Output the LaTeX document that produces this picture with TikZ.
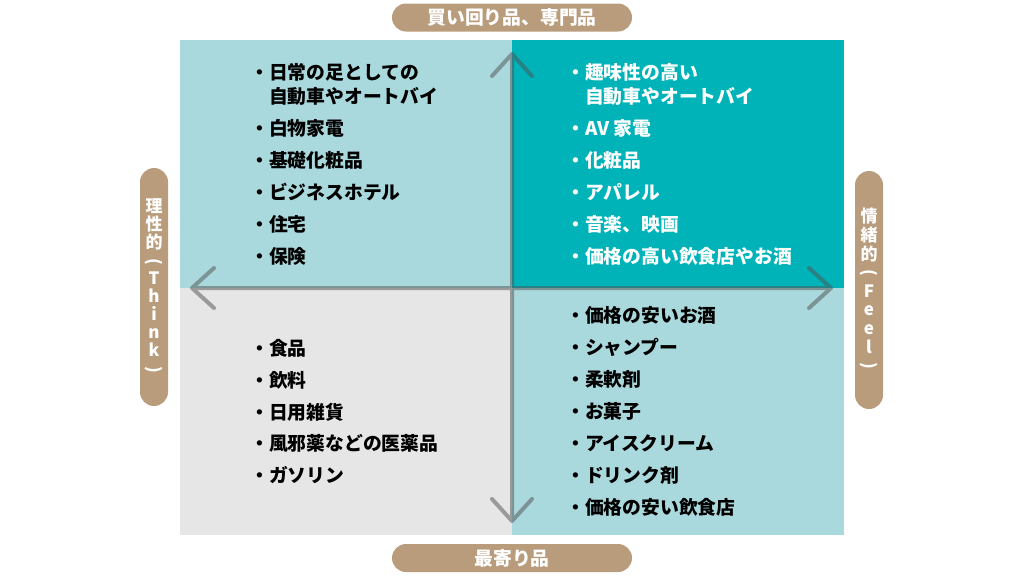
\documentclass[tikz,border=0pt]{standalone}
\usepackage{fontspec}
\usepackage{graphicx}
\setmainfont{Noto Sans CJK JP}
\usetikzlibrary{arrows.meta}
\definecolor{hellTuerkis}{HTML}{AAD9DD}
\definecolor{tuerkis}{HTML}{00B3B9}
\definecolor{hellGrau}{HTML}{E6E6E6}
\definecolor{sand}{HTML}{B99C7B}
\definecolor{achse}{HTML}{505050}
\newcommand{\klauf}{\rotatebox[origin=c]{-90}{(}}
\newcommand{\klzu}{\rotatebox[origin=c]{-90}{)}}
\tikzset{
    %Standard-Pfeilspitze
    >={Straight Barb[length=22pt,width=40pt,round]},
    %Kapsel fuer die Achsen
    kapsel/.style={
           rectangle,
           rounded corners=14pt,
           fill=sand,
           text=white,
           inner sep=0pt},
    % Listeneintrag
    eintrag/.style={
           anchor=west,
           inner sep=0pt,
           align=left,
           font=\bfseries\fontsize{18.8}{24}\selectfont},
    % Achsenpfeil
    pil/.style={
           <->,
           line width=4pt,
           draw=achse},
}

\begin{document}
\begin{tikzpicture}[x=1pt,y=-1pt]
\useasboundingbox (0,0) rectangle (1024,576);
\coordinate (mitte) at (512,288);

% Felder
\fill[hellTuerkis] (180,40) rectangle (mitte);
\fill[tuerkis] (844,40) rectangle (mitte);
\fill[hellGrau] (180,535) rectangle (mitte);
\fill[hellTuerkis] (844,535) rectangle (mitte);

% Achsen
\coordinate (achseOben) at (512,52);
\coordinate (achseUnten) at (512,523);
\coordinate (achseLinks) at (190,288);
\coordinate (achseRechts) at (833,288);
\begin{scope}[transparency group,opacity=0.5]
\draw[pil] (achseOben) -- (achseUnten);
\draw[pil] (achseLinks) -- (achseRechts);
\end{scope}

% Kapseln
\node[kapsel,minimum width=240pt,minimum height=28pt,
      font=\bfseries\fontsize{18.8}{20}\selectfont] (kapselOben) at (512,17.5) {買い回り品、専門品};
\node[kapsel,minimum width=240pt,minimum height=28pt,
      font=\bfseries\fontsize{18.8}{20}\selectfont] (kapselUnten) at (512,558) {最寄り品};
\node[kapsel,minimum width=28pt,minimum height=238pt,align=center,
      font=\bfseries\fontsize{17}{18}\selectfont] (kapselLinks) at (154,287)
      {理\\性\\的\\\klauf\\T\\h\\i\\n\\k\\\klzu};
\node[kapsel,minimum width=28pt,minimum height=238pt,align=center,
      font=\bfseries\fontsize{17}{18.6}\selectfont] (kapselRechts) at (869,290)
      {情\\緒\\的\\\klauf\\F\\e\\e\\l\\\klzu};

% Links oben
\node[eintrag] (lo0) at (250,84) {・日常の足としての\\\phantom{・}自動車やオートバイ};
\foreach \y/\txt in {128/白物家電,160/基礎化粧品,192/ビジネスホテル,224/住宅,256/保険}
    \node[eintrag] (lo\y) at (250,\y) {・\txt};

% Rechts oben
\node[eintrag,text=white] (ro0) at (566,84) {・趣味性の高い\\\phantom{・}自動車やオートバイ};
\foreach \y/\txt in {128/AV 家電,160/化粧品,192/アパレル,224/音楽、映画,256/価格の高い飲食店やお酒}
    \node[eintrag,text=white] (ro\y) at (566,\y) {・\txt};

% Links unten
\foreach \y/\txt in {348/食品,380/飲料,412/日用雑貨,443/風邪薬などの医薬品,475/ガソリン}
    \node[eintrag] (lu\y) at (250,\y) {・\txt};

% Rechts unten
\foreach \y/\txt in {315/価格の安いお酒,347/シャンプー,379/柔軟剤,411/お菓子,443/アイスクリーム,475/ドリンク剤,507/価格の安い飲食店}
    \node[eintrag] (ru\y) at (566,\y) {・\txt};
\end{tikzpicture}
\end{document}
